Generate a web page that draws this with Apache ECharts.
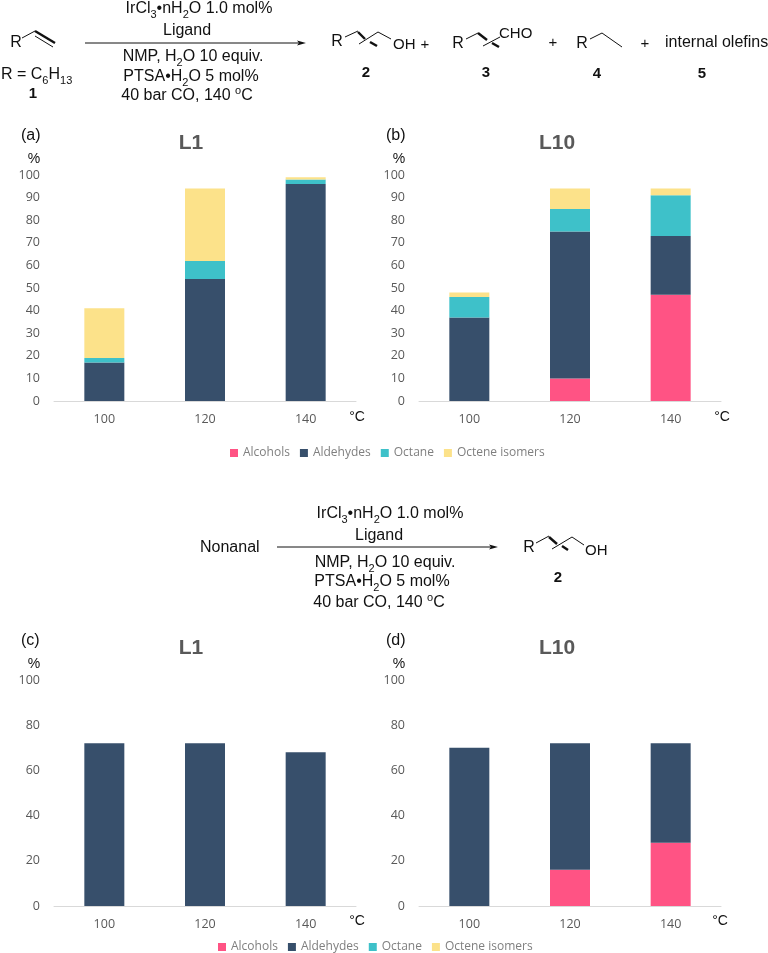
<!DOCTYPE html>
<html><head><meta charset="utf-8">
<style>html,body{margin:0;padding:0;background:#fff}#c{width:768px;height:953px}</style>
<script src="https://cdn.jsdelivr.net/npm/echarts@6/dist/echarts.min.js"></script>
</head><body><div id="c"></div>
<script>
var temperatures = ['100','120','140'];
var seriesNames = ['Alcohols','Aldehydes','Octane','Octene isomers'];
var seriesColors = ['#FF5384','#374F6B','#3EC1C9','#FCE28A'];

var a_alcohols = [0,0,0];
var a_aldehydes = [17,54,96];
var a_octane = [2,8,2];
var a_isomers = [22,32,1];

var b_alcohols = [0,10,47];
var b_aldehydes = [37,65,26];
var b_octane = [9,10,18];
var b_isomers = [2,9,3];

var c_alcohols = [0,0,0];
var c_aldehydes = [72,72,68];
var c_octane = [0,0,0];
var c_isomers = [0,0,0];

var d_alcohols = [0,16,28];
var d_aldehydes = [70,56,44];
var d_octane = [0,0,0];
var d_isomers = [0,0,0];

var panels = [
  {left:54, top:175, interval:10, values:[a_alcohols,a_aldehydes,a_octane,a_isomers]},
  {left:419,top:175, interval:10, values:[b_alcohols,b_aldehydes,b_octane,b_isomers]},
  {left:54, top:680, interval:20, values:[c_alcohols,c_aldehydes,c_octane,c_isomers]},
  {left:419,top:680, interval:20, values:[d_alcohols,d_aldehydes,d_octane,d_isomers]}
];

var SANS='"Liberation Sans",Arial,sans-serif', UI='"Open Sans",sans-serif', GREY='#595959';
var grids=[],xs=[],ys=[],series=[];
panels.forEach(function(p,i){
  grids.push({left:p.left,top:p.top,width:302,height:226});
  xs.push({type:'category',gridIndex:i,data:temperatures,
    axisTick:{show:false},axisLine:{lineStyle:{color:'#D9D9D9',width:1}},
    axisLabel:{color:GREY,fontFamily:UI,fontSize:12.5,margin:12}});
  ys.push({type:'value',gridIndex:i,min:0,max:100,interval:p.interval,
    splitLine:{show:false},axisLine:{show:false},axisTick:{show:false},
    axisLabel:{color:GREY,fontFamily:UI,fontSize:12.5,margin:14,padding:[3,0,0,0]}});
  p.values.forEach(function(v,k){
    series.push({type:'bar',name:seriesNames[k],stack:'s'+i,xAxisIndex:i,yAxisIndex:i,data:v,
      barWidth:40,itemStyle:{color:seriesColors[k]}});
  });
});

var rich={s:{fontFamily:SANS,fontSize:11,verticalAlign:'bottom',fill:'#111',lineHeight:22},
          u:{fontFamily:SANS,fontSize:11,verticalAlign:'top',fill:'#111',lineHeight:22},
          n:{fontFamily:SANS,fontSize:16,fill:'#111',lineHeight:18}};
function T(x,y,text,opt){opt=opt||{};
  return {type:'text',silent:true,style:{x:x,y:y,text:text,fill:opt.fill||'#111',
    fontFamily:opt.family||SANS,fontSize:opt.size||16,fontWeight:opt.weight||'normal',
    align:opt.align||'center',verticalAlign:'middle',rich:opt.rich?rich:undefined}};
}
function R(x,y,parts,align){ // mixed text with sub/superscripts
  return T(x,y,parts,{rich:true,align:align||'center'});
}
function L(pts,w){return {type:'polyline',silent:true,shape:{points:pts},style:{stroke:'#111',lineWidth:w||1,fill:null}};}
function arrow(x1,x2,y){return [L([[x1,y],[x2-6,y]],1),
  {type:'polygon',silent:true,shape:{points:[[x2,y],[x2-9,y-2.5],[x2-7,y],[x2-9,y+2.5]]},style:{fill:'#111'}}];}
function n(t){return '{n|'+t+'}';}
function conditions(cx,ys){return [
  R(cx[0],ys[0],n('IrCl')+'{s|3}'+n('•nH')+'{s|2}'+n('O 1.0 mol%')),
  T(cx[1],ys[1],'Ligand'),
  R(cx[2],ys[2],n('NMP, H')+'{s|2}'+n('O 10 equiv.')),
  R(cx[3],ys[3],n('PTSA•H')+'{s|2}'+n('O 5 mol%')),
  R(cx[4],ys[4],n('40 bar CO, 140 ')+'{u|o}'+n('C'))
];}
var B={weight:'bold',size:15};
var g=[];
// Top scheme
g=g.concat(conditions([199,187,193,191,187],[9,31,57,77,96]));
g=g.concat(arrow(85,306,43));
g.push(T(16,43,'R'));
g.push(L([[22,38],[35,31]]),L([[35,31],[55,43]],2.4),L([[35,36],[53,47]]));
g.push(R(1,75,n('R = C')+'{s|6}'+n('H')+'{s|13}','left'));
g.push(T(33,94,'1',B));
// product 2
g.push(T(337,42,'R'));
g.push(L([[345,37],[358,31]]),L([[358,32],[365,39]],2.4),L([[359,44],[378,32]]),L([[370,42],[377,46]],2.4),L([[378,32],[391,39]]));
g.push(T(393,45,'OH',{align:'left',size:15}));
g.push(T(425,45,'+',{size:15}));
g.push(T(366,73,'2',B));
// product 3
g.push(T(458,44,'R'));
g.push(L([[466,39],[478,33]]),L([[478,33],[487,40]],2.4),L([[483,46],[500,37]]),L([[492,43],[499,47]],2.4));
g.push(T(499,34,'CHO',{align:'left',size:15}));
g.push(T(486,73,'3',B));
g.push(T(553,43,'+',{size:15}));
// product 4
g.push(T(582,44,'R'));
g.push(L([[590,39],[602,33],[622,47]]));
g.push(T(597,74,'4',B));
g.push(T(645,44,'+',{size:15}));
g.push(T(665,43,'internal olefins',{align:'left'}));
g.push(T(702,74,'5',B));
// Bottom scheme
g=g.concat(conditions([390,379,385,382,379],[514,536,563,582,603]));
g=g.concat(arrow(277,498,547));
g.push(T(200,548,'Nonanal',{align:'left'}));
g.push(T(529,548,'R'));
g.push(L([[536,543],[549,536]]),L([[549,537],[557,544]],2.4),L([[552,549],[572,537]]),L([[562,546],[568,550]],2.4),L([[572,537],[584,545]]));
g.push(T(585,551,'OH',{align:'left',size:15}));
g.push(T(558,578,'2',B));
// Panel decorations
[['(a)',21,136,'L1',191,143,34,159,357,417],
 ['(b)',386,136,'L10',557,143,399,159,722,417],
 ['(c)',21,641,'L1',191,648,34,664,357,921],
 ['(d)',386,641,'L10',557,648,399,664,720,921]].forEach(function(r){
  g.push(T(r[1],r[2],r[0],{align:'left',size:16}));
  g.push(T(r[4],r[5],r[3],{weight:'bold',size:21,fill:GREY}));
  g.push(T(r[6],r[7],'%',{size:14}));
  g.push(T(r[8],r[9],'°C',{size:14}));
});

function legend(left,top){return {show:true,left:left,top:top,itemWidth:8,itemHeight:8,itemGap:10,icon:'rect',
  data:seriesNames,selectedMode:false,textStyle:{color:'#7F7F7F',fontFamily:UI,fontSize:12},padding:0};}

var chart=echarts.init(document.getElementById('c'),null,{renderer:'canvas'});
chart.setOption({backgroundColor:'#fff',animation:false,
  grid:grids,xAxis:xs,yAxis:ys,series:series,
  legend:[legend(230,447),legend(218,941)],
  graphic:{elements:g}});
</script></body></html>
